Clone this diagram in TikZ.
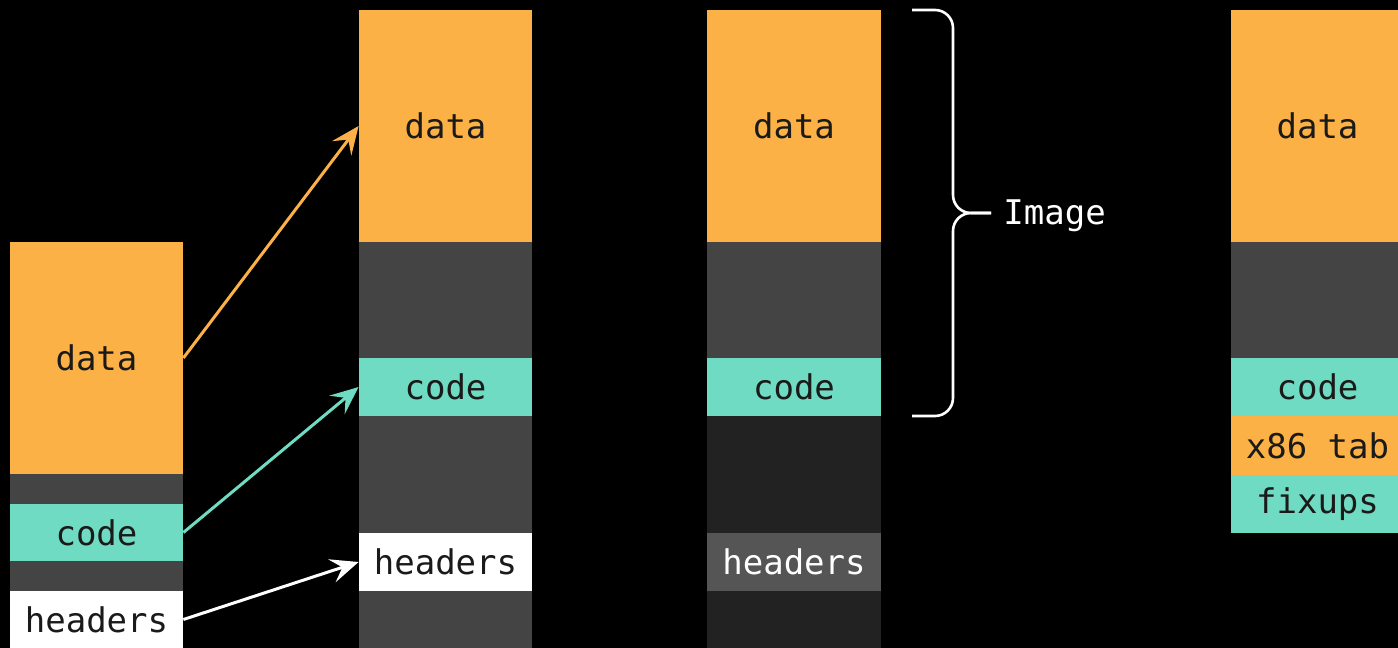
\documentclass[tikz,border=0pt]{standalone}
\usepackage{fontspec}
\setmonofont{DejaVu Sans Mono}
\usetikzlibrary{arrows.meta}
\definecolor{segorange}{HTML}{FBB145}
\definecolor{segteal}{HTML}{6FDBC2}
\definecolor{seggray}{HTML}{444444}
\definecolor{segdark}{HTML}{222222}
\definecolor{seghead}{HTML}{555555}
\definecolor{inkdark}{HTML}{1A1A1A}
\tikzset{
  slab/.style={rectangle, draw=none, inner sep=0pt, text=inkdark,
    font=\ttfamily\fontsize{17}{20}\selectfont},
  link/.style={line width=1.5pt, -{Stealth[length=14pt,width=12pt,inset=5.5pt]}},
  bracepath/.style={draw=white, line width=1.3pt, rounded corners=9pt},
}
% #1 name, #2 left, #3 top, #4 right, #5 bottom, #6 fill, #7 label
\newcommand\slab[7]{%
  \node[slab, fill=#6, minimum width={(#4-#2)*0.5pt}, minimum height={(#5-#3)*0.5pt}]
    (#1) at ({(#2+#4)/2},{(#3+#5)/2}) {#7};}
\begin{document}
\begin{tikzpicture}[x=0.5pt, y=-0.5pt]
  \fill[black] (0,0) rectangle (1398,648);
  \useasboundingbox (0,0) rectangle (1398,648);
  \clip (0,0) rectangle (1398,648);

  % object file
  \slab{d1}{10}{242}{183}{474}{segorange}{data}
  \slab{g1a}{10}{474}{183}{504}{seggray}{}
  \slab{c1}{10}{504}{183}{561}{segteal}{code}
  \slab{g1b}{10}{561}{183}{591}{seggray}{}
  \slab{h1}{10}{591}{183}{648}{white}{headers}

  % mapped layout
  \slab{d2}{359}{10}{532}{242}{segorange}{data}
  \slab{g2a}{359}{242}{532}{358}{seggray}{}
  \slab{c2}{359}{358}{532}{416}{segteal}{code}
  \slab{g2b}{359}{416}{532}{533}{seggray}{}
  \slab{h2}{359}{533}{532}{591}{white}{headers}
  \slab{g2c}{359}{591}{532}{648}{seggray}{}

  % image after loading
  \slab{d3}{707}{10}{881}{242}{segorange}{data}
  \slab{g3a}{707}{242}{881}{358}{seggray}{}
  \slab{c3}{707}{358}{881}{416}{segteal}{code}
  \slab{g3b}{707}{416}{881}{533}{segdark}{}
  \node[slab, fill=seghead, text=white, minimum width={174*0.5pt}, minimum height={58*0.5pt}]
    (h3) at (794,562) {headers};
  \slab{g3c}{707}{591}{881}{648}{segdark}{}

  % image with extra tables
  \slab{d4}{1231}{10}{1404}{242}{segorange}{data}
  \slab{g4a}{1231}{242}{1404}{358}{seggray}{}
  \slab{c4}{1231}{358}{1404}{416}{segteal}{code}
  \slab{x4}{1231}{416}{1404}{475}{segorange}{x86 tab}
  \slab{f4}{1231}{475}{1404}{533}{segteal}{fixups}

  % section mapping
  \draw[link, segorange] (d1.east) -- (d2.west);
  \draw[link, segteal] (c1.east) -- (c2.west);
  \draw[link, white] (h1.east) -- (h2.west);

  % brace over the image
  \node[anchor=west, text=white, inner sep=0pt,
    font=\ttfamily\fontsize{17}{20}\selectfont] (img) at (1003,216) {Image};
  \coordinate (btop) at (912,10);
  \coordinate (bbot) at (912,416);
  \coordinate (bmid) at (953,213);
  \draw[bracepath] (btop) -- (btop -| bmid) -- (bmid) -- (991,213);
  \draw[bracepath] (bbot) -- (bbot -| bmid) -- (bmid) -- (991,213);
\end{tikzpicture}
\end{document}
